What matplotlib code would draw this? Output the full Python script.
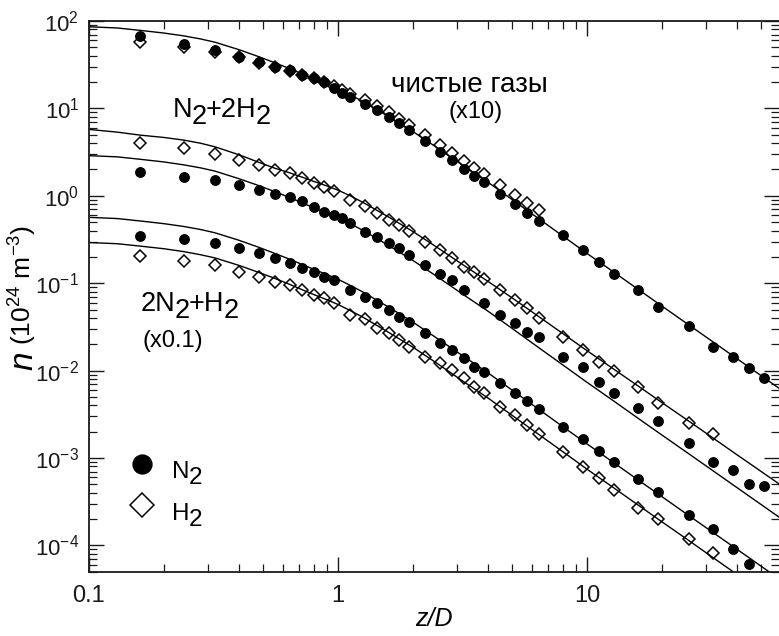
import numpy as np
import matplotlib
matplotlib.use("Agg")
import matplotlib.pyplot as plt
from matplotlib.ticker import LogLocator, NullFormatter

plt.rcParams['font.family'] = ['Liberation Sans', 'DejaVu Sans']
plt.rcParams['mathtext.fontset'] = 'custom'
plt.rcParams['mathtext.rm'] = 'Liberation Sans'
plt.rcParams['mathtext.it'] = 'Liberation Sans:italic'
plt.rcParams['mathtext.default'] = 'regular'
plt.rcParams['axes.unicode_minus'] = False

# model curves (z/D grid shared by all five lines)
z_line = [0.1, 0.13, 0.16, 0.2, 0.24, 0.28, 0.32, 0.4, 0.48, 0.56, 0.64, 0.72, 0.8, 0.9, 1.0,
          1.12, 1.26, 1.6, 2.0, 2.5, 3.2, 4.0, 5.0, 6.4, 8.0, 10, 12.8, 16, 20, 25.6, 32, 40, 51.2, 60]
line_pure = [85.9, 83.2, 78.2, 72.8, 67.6, 62.4, 57.3, 47.0, 39.1, 33.1, 28.5, 24.7, 21.8, 19.1, 16.8,
             14.3, 12.0, 8.04, 5.43, 3.55, 2.19, 1.43, 0.906, 0.547, 0.346, 0.219, 0.134, 0.0855,
             0.0547, 0.0334, 0.0214, 0.0137, 0.00836, 0.00608]
line_mixA_h2 = [5.75, 5.35, 4.95, 4.65, 4.34, 4.0, 3.64, 2.95, 2.42, 2.06, 1.83, 1.63, 1.46, 1.3, 1.16,
                1.0, 0.84, 0.57, 0.39, 0.257, 0.16, 0.105, 0.068, 0.0415, 0.0265, 0.0169, 0.0104,
                0.0067, 0.0043, 0.00265, 0.0017, 0.00109, 0.00067, 0.00049]
line_mixA_n2 = [2.88, 2.79, 2.62, 2.44, 2.26, 2.09, 1.92, 1.57, 1.31, 1.11, 0.955, 0.827, 0.73, 0.64,
                0.563, 0.479, 0.402, 0.269, 0.182, 0.119, 0.0734, 0.0479, 0.0304, 0.0183, 0.0116,
                0.00734, 0.00449, 0.00286, 0.00183, 0.00112, 0.000717, 0.000459, 0.00028, 0.000204]
line_mixB_n2 = [0.567, 0.549, 0.516, 0.48, 0.446, 0.412, 0.378, 0.31, 0.258, 0.218, 0.188, 0.163,
                0.144, 0.126, 0.111, 0.0944, 0.0792, 0.0531, 0.0358, 0.0234, 0.0145, 0.00944,
                0.00598, 0.00361, 0.00228, 0.00145, 0.000884, 0.000564, 0.000361, 0.00022,
                0.000141, 9.04e-5, 5.52e-5, 4.01e-5]
line_mixB_h2 = [0.292, 0.283, 0.266, 0.248, 0.23, 0.212, 0.195, 0.16, 0.133, 0.113, 0.0969, 0.084,
                0.0741, 0.0649, 0.0571, 0.0486, 0.0408, 0.0273, 0.0185, 0.0121, 0.00745, 0.00486,
                0.00308, 0.00186, 0.00118, 0.000745, 0.000456, 0.000291, 0.000186, 0.000114,
                7.28e-5, 4.66e-5, 2.84e-5, 2.07e-5]

# pure gases (x10)
z_pure_n2 = [0.16, 0.24, 0.32, 0.40, 0.48, 0.56, 0.64, 0.72, 0.80, 0.88, 0.96, 1.04, 1.12, 1.28, 1.44,
             1.60, 1.76, 1.92, 2.24, 2.56, 2.88, 3.20, 3.52, 3.84, 4.48, 5.12, 5.76, 6.40, 8.0, 9.6,
             11.2, 12.8, 16.0, 19.2, 25.6, 32.0, 38.4, 44.8, 51.2]
pure_n2 = [67.7, 54.0, 46.4, 38.9, 34.1, 29.9, 27.4, 24.0, 22.0, 20.2, 17.2, 15.0, 13.4, 11.3, 9.6,
           8.0, 6.8, 5.6, 4.2, 3.2, 2.55, 2.05, 1.7, 1.42, 1.05, 0.80, 0.63, 0.52, 0.355, 0.239,
           0.176, 0.127, 0.0834, 0.0537, 0.0323, 0.0187, 0.0143, 0.0107, 0.0082]
z_pure_h2 = [0.16, 0.24, 0.32, 0.40, 0.48, 0.56, 0.64, 0.72, 0.80, 0.88, 0.96, 1.04, 1.12, 1.28, 1.44,
             1.60, 1.76, 1.92, 2.24, 2.56, 2.88, 3.20, 3.52, 3.84, 4.48, 5.12, 5.76, 6.40]
pure_h2 = [57.8, 50.7, 44.4, 38.5, 33.5, 29.5, 27.0, 24.2, 22.0, 20.0, 18.0, 16.2, 14.8, 12.5, 10.6,
           9.0, 7.6, 6.5, 4.9, 3.8, 3.05, 2.5, 2.1, 1.78, 1.32, 1.02, 0.82, 0.686]

# N2+2H2
z_mixA_h2 = [0.16, 0.24, 0.32, 0.40, 0.48, 0.56, 0.64, 0.72, 0.80, 0.88, 0.96, 1.12, 1.28, 1.44, 1.60,
             1.76, 1.92, 2.24, 2.56, 2.88, 3.20, 3.52, 3.84, 4.48, 5.12, 5.76, 6.40, 8.0, 9.6, 11.2,
             12.8, 16.0, 19.2, 25.6, 32.0]
mixA_h2 = [3.98, 3.49, 3.0, 2.56, 2.24, 1.97, 1.80, 1.58, 1.41, 1.25, 1.14, 0.90, 0.77, 0.64, 0.535,
           0.46, 0.395, 0.30, 0.24, 0.193, 0.155, 0.133, 0.113, 0.0834, 0.0641, 0.0515, 0.0395,
           0.0244, 0.0172, 0.0126, 0.00995, 0.00643, 0.00422, 0.00249, 0.00186]
z_mixA_n2 = [0.16, 0.24, 0.32, 0.40, 0.48, 0.56, 0.64, 0.72, 0.80, 0.88, 0.96, 1.04, 1.12, 1.28, 1.44,
             1.60, 1.76, 1.92, 2.24, 2.56, 2.88, 3.20, 3.84, 4.48, 5.12, 5.76, 6.40, 8.0, 9.6, 11.2,
             12.8, 16.0, 19.2, 25.6, 32.0, 38.4, 44.8, 51.2]
mixA_n2 = [1.88, 1.65, 1.51, 1.33, 1.18, 1.06, 0.96, 0.865, 0.748, 0.656, 0.601, 0.551, 0.483, 0.39,
           0.34, 0.285, 0.25, 0.21, 0.161, 0.129, 0.108, 0.0834, 0.0588, 0.0431, 0.0347, 0.0278,
           0.024, 0.0144, 0.011, 0.00744, 0.00557, 0.00369, 0.00267, 0.00149, 0.00089, 0.00073,
           0.000503, 0.000476]

# 2N2+H2 (x0.1)
z_mixB_n2 = [0.16, 0.24, 0.32, 0.40, 0.48, 0.56, 0.64, 0.72, 0.80, 0.88, 0.96, 1.12, 1.28, 1.44, 1.60,
             1.76, 1.92, 2.24, 2.56, 2.88, 3.20, 3.52, 3.84, 4.48, 5.12, 5.76, 6.40, 8.0, 9.6, 11.2,
             12.8, 16.0, 19.2, 25.6, 32.0, 38.4, 44.8]
mixB_n2 = [0.346, 0.317, 0.285, 0.25, 0.222, 0.192, 0.169, 0.15, 0.135, 0.118, 0.108, 0.0834,
           0.0699, 0.059, 0.050, 0.0412, 0.0361, 0.0267, 0.0205, 0.0172, 0.0138, 0.0111, 0.0097,
           0.00714, 0.00548, 0.0045, 0.0036, 0.00228, 0.00163, 0.0012, 0.000905, 0.00057,
           0.00041, 0.000222, 0.000154, 9.2e-5, 6.2e-5]
z_mixB_h2 = [0.16, 0.24, 0.32, 0.40, 0.48, 0.56, 0.64, 0.72, 0.80, 0.88, 0.96, 1.12, 1.28, 1.44, 1.60,
             1.76, 1.92, 2.24, 2.56, 2.88, 3.20, 3.52, 3.84, 4.48, 5.12, 5.76, 6.40, 8.0, 9.6, 11.2,
             12.8, 16.0, 19.2, 25.6, 32.0]
mixB_h2 = [0.204, 0.18, 0.161, 0.135, 0.117, 0.104, 0.095, 0.0834, 0.0731, 0.067, 0.0587, 0.0431,
           0.0385, 0.0304, 0.0267, 0.0223, 0.0187, 0.0144, 0.0121, 0.0101, 0.00815, 0.00653,
           0.00557, 0.00386, 0.0031, 0.00238, 0.00186, 0.00118, 0.000794, 0.000585, 0.00043,
           0.000265, 0.000198, 0.00012, 8.2e-5]

x_ticks = [0.1, 1, 10]
x_ticklabels = ['0.1', '1', '10']
y_ticks = [1e-4, 1e-3, 1e-2, 1e-1, 1, 10, 100]

W, H = 779, 636
fig = plt.figure(figsize=(W / 100, H / 100), dpi=100)
ax = fig.add_axes([89 / W, 64 / H, 690 / W, 551 / H])
renderer = fig.canvas.get_renderer()


def chem_text(x_px, y_px, parts, size):
    # writes a formula piece by piece; subscripts are full-size digits set lower
    x = x_px
    for s, drop in parts:
        t = fig.text(x / W, 1 - (y_px + drop) / H, s, fontsize=size, va='baseline')
        x = t.get_window_extent(renderer).x1 - 1


for curve in (line_pure, line_mixA_h2, line_mixA_n2, line_mixB_n2, line_mixB_h2):
    ax.plot(z_line, curve, color='black', lw=1.0, zorder=2)

circ = dict(ls='none', marker='o', ms=6.8, color='black', mec='black', zorder=3)
diam = dict(ls='none', marker='D', ms=6.2, mfc='none', mec='black', mew=1.1, zorder=4)

h_n2, = ax.plot(z_pure_n2, pure_n2, **circ)
h_h2, = ax.plot(z_pure_h2, pure_h2, **diam)
ax.plot(z_mixA_n2, mixA_n2, **circ)
ax.plot(z_mixA_h2, mixA_h2, **diam)
ax.plot(z_mixB_n2, mixB_n2, **circ)
ax.plot(z_mixB_h2, mixB_h2, **diam)

ax.set_xscale('log')
ax.set_yscale('log')
ax.set_xlim(0.1, 59.0)
ax.set_ylim(10 ** -4.304, 100)

for axis in (ax.xaxis, ax.yaxis):
    axis.set_minor_locator(LogLocator(base=10, subs=np.arange(2, 10), numticks=20))
    axis.set_minor_formatter(NullFormatter())
ax.set_xticks(x_ticks)
ax.set_xticklabels(x_ticklabels)
ax.set_yticks(y_ticks)

ax.tick_params(which='major', direction='in', length=11, width=1.0, top=True, right=True,
               colors='#1a1a1a')
ax.tick_params(which='minor', direction='in', length=5.5, width=0.9, top=True, right=True,
               colors='#1a1a1a')
ax.tick_params(axis='x', which='major', pad=9, labelsize=17)
ax.tick_params(axis='y', which='major', pad=7, labelsize=16)
for side, sp in ax.spines.items():
    sp.set_linewidth(1.3)
    sp.set_color('#1a1a1a')
ax.spines['right'].set_visible(False)

ax.set_xlabel('z/D', fontsize=18, style='italic', labelpad=0)

# y label: large italic n plus units
fig.text(32 / W, 1 - 361 / H, 'n', fontsize=24, style='italic', rotation=90,
         rotation_mode='anchor', ha='center', va='baseline')
fig.text(32 / W, 1 - 285 / H, '(10$^{24}$ m$^{-3}$)', fontsize=19, rotation=90,
         rotation_mode='anchor', ha='center', va='baseline')

chem_text(173, 117, [('N', 0), ('2', 7), ('+2H', 0), ('2', 7)], 19.5)
fig.text(391 / W, 1 - 92 / H, 'чистые газы', fontsize=20, va='baseline')
fig.text(448 / W, 1 - 118 / H, '(x10)', fontsize=17, va='baseline')
chem_text(141, 311, [('2N', 0), ('2', 7), ('+H', 0), ('2', 7)], 19.5)
fig.text(142 / W, 1 - 347 / H, '(x0.1)', fontsize=17, va='baseline')

# legend keys only; labels are written with full-size subscripts
ax.legend([h_n2, h_h2], [' ', ' '], loc='center left',
          bbox_to_anchor=((128.5 - 89) / 690, (572 - 487) / 551), frameon=False,
          markerscale=2, fontsize=19, handlelength=1.0, handletextpad=0.4,
          labelspacing=0.65, borderpad=0, borderaxespad=0)
chem_text(172, 478, [('N', 0), ('2', 6)], 17.5)
chem_text(172, 520, [('H', 0), ('2', 6)], 17.5)

fig.savefig('out.png', dpi=100)
